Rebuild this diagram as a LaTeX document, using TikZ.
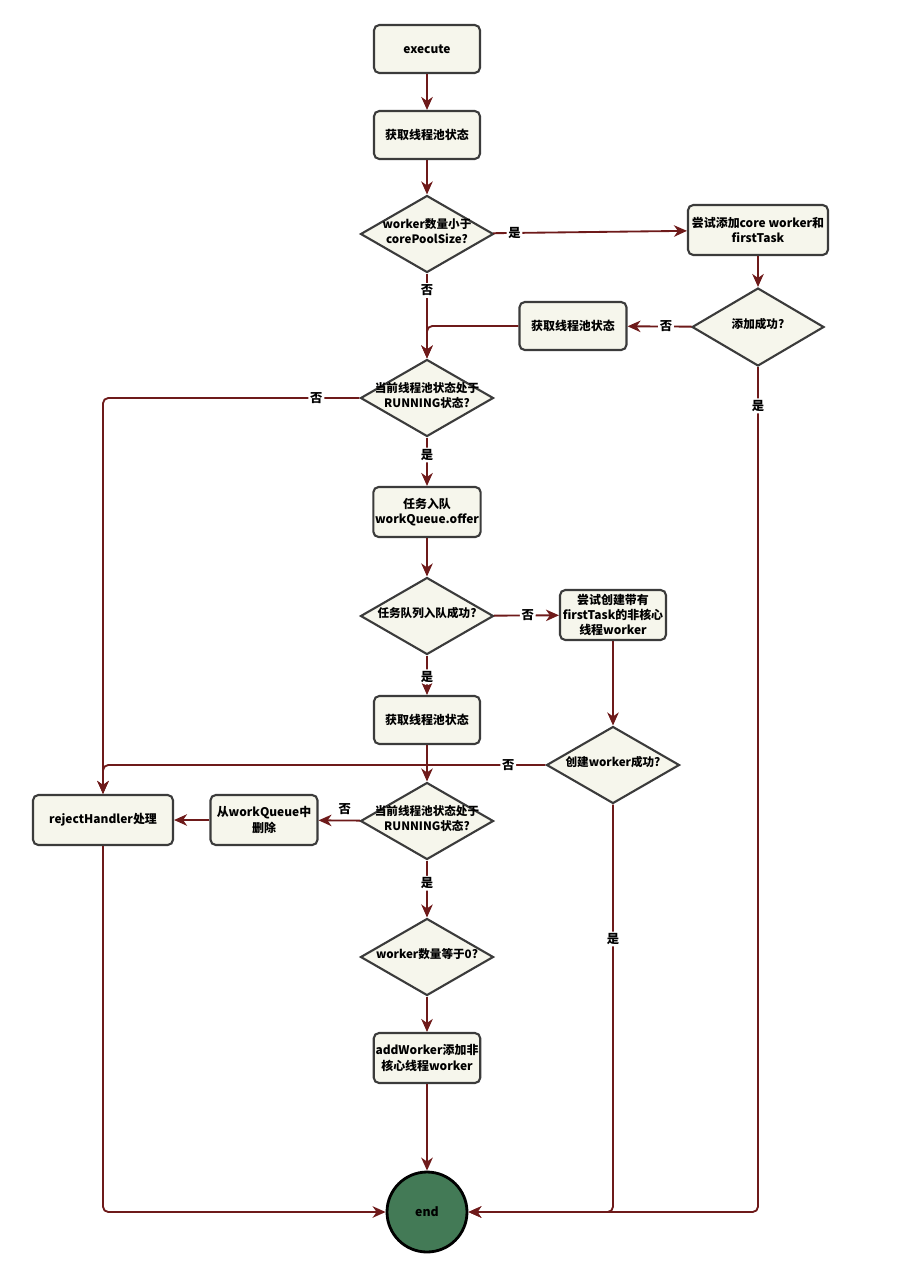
\documentclass[tikz,border=0pt]{standalone}
\usepackage{fontspec}
\setmainfont{Noto Sans CJK SC}
\usepackage{xcolor}
\usepackage{tikz}
\usetikzlibrary{arrows.meta,shapes.geometric}
\definecolor{flowRed}{HTML}{6E1A1A}
\definecolor{flowFill}{HTML}{F6F6EC}
\definecolor{flowLine}{HTML}{3B3B3B}
\definecolor{flowGreen}{HTML}{437A56}
\newcommand{\dtext}[1]{\raisebox{-2pt}{\smash{\makebox[0pt]{\begin{tabular}{@{}c@{}}#1\end{tabular}}}}}
\tikzset{
  stepbox/.style={draw=flowLine,fill=flowFill,rounded corners=3pt,
    line width=1.2pt,minimum height=0.96cm,minimum width=2.12cm,
    align=center,inner sep=1pt,font=\fontsize{6.8}{8.6}\selectfont\bfseries},
  choice/.style={diamond,draw=flowLine,fill=flowFill,line width=1.2pt,
    minimum width=2.66cm,minimum height=1.54cm,inner sep=0pt,
    font=\fontsize{6.6}{8.4}\selectfont\bfseries},
  endnode/.style={circle,draw=black,fill=flowGreen,line width=1.6pt,
    minimum size=1.6cm,font=\fontsize{7}{8.6}\selectfont\bfseries},
  arrow/.style={-{Stealth[length=2.6mm,width=2.3mm,inset=0.8mm]},line width=1.05pt,
    draw=flowRed,rounded corners=3pt},
  lbl/.style={fill=white,inner sep=1pt,font=\fontsize{7}{8}\selectfont\bfseries}
}
\begin{document}
\begin{tikzpicture}[x=0.02cm,y=-0.02cm]
  \useasboundingbox (0,0) rectangle (896,1278);

  % main column
  \node[stepbox] (execute) at (427,49) {execute};
  \node[stepbox] (state1) at (427,135) {获取线程池状态};
  \node[choice] (lesscore) at (427,234) {\dtext{worker数量小于\\corePoolSize?}};
  \node[stepbox, minimum width=2.8cm, minimum height=1cm] (addcore) at (758,230) {尝试添加core worker和\\firstTask};
  \node[choice, minimum width=2.64cm, minimum height=1.56cm] (addok) at (758,327) {\dtext{添加成功?}};
  \node[stepbox, minimum width=2.14cm] (state2) at (573,326) {获取线程池状态};
  \node[choice] (running1) at (427,398) {\dtext{当前线程池状态处于\\RUNNING状态?}};
  \node[stepbox, minimum height=1cm] (offer) at (427,512) {任务入队\\workQueue.offer};
  \node[choice] (offerok) at (427,616) {\dtext{任务队列入队成功?}};
  \node[stepbox, minimum height=1cm] (noncore) at (613,615) {尝试创建带有\\firstTask的非核心\\线程worker};
  \node[stepbox] (state3) at (427,720) {获取线程池状态};
  \node[choice] (createok) at (613,765) {\dtext{创建worker成功?}};
  \node[stepbox, minimum width=2.8cm, minimum height=1cm] (reject) at (103,820) {rejectHandler处理};
  \node[stepbox, minimum width=2.14cm, minimum height=1cm] (remove) at (264,820) {从workQueue中\\删除};
  \node[choice] (running2) at (427,821) {\dtext{当前线程池状态处于\\RUNNING状态?}};
  \node[choice] (zero) at (427,957) {\dtext{worker数量等于0?}};
  \node[stepbox, minimum height=1cm] (addworker) at (427,1058) {addWorker添加非\\核心线程worker};
  \node[endnode] (end) at (427,1212) {end};

  \draw[arrow] (execute) -- (state1);
  \draw[arrow] (state1) -- (lesscore);
  \draw[arrow] (lesscore) -- node[lbl,pos=0.11] {是} (addcore);
  \draw[arrow] (lesscore) -- node[lbl,pos=0.2] {否} (running1);
  \draw[arrow] (addcore) -- (addok);
  \draw[arrow] (addok) -- node[lbl,pos=0.4] {否} (state2);
  \draw[arrow] (state2.west) -| (running1.north);
  \draw[arrow] (addok.south) |- node[lbl,pos=0.023] {是} (end.east);
  \draw[arrow] (running1.west) -| node[lbl,pos=0.084] {否} (reject.north);
  \draw[arrow] (running1) -- node[lbl,pos=0.36] {是} (offer);
  \draw[arrow] (offer) -- (offerok);
  \draw[arrow] (offerok) -- node[lbl,pos=0.52] {否} (noncore);
  \draw[arrow] (offerok) -- node[lbl,pos=0.54] {是} (state3);
  \draw[arrow] (noncore) -- (createok);
  \draw[arrow] (createok.west) -| node[lbl,pos=0.042] {否} (reject.north);
  \draw[arrow] (createok.south) |- node[lbl,pos=0.165] {是} (end.east);
  \draw[arrow] (state3) -- (running2);
  \draw[arrow] (running2) -- node[lbl,pos=0.37,above=2pt,fill=none] {否} (remove);
  \draw[arrow] (remove) -- (reject);
  \draw[arrow] (running2) -- node[lbl,pos=0.4] {是} (zero);
  \draw[arrow] (zero) -- (addworker);
  \draw[arrow] (addworker) -- (end);
  \draw[arrow] (reject.south) |- (end.west);
\end{tikzpicture}
\end{document}
